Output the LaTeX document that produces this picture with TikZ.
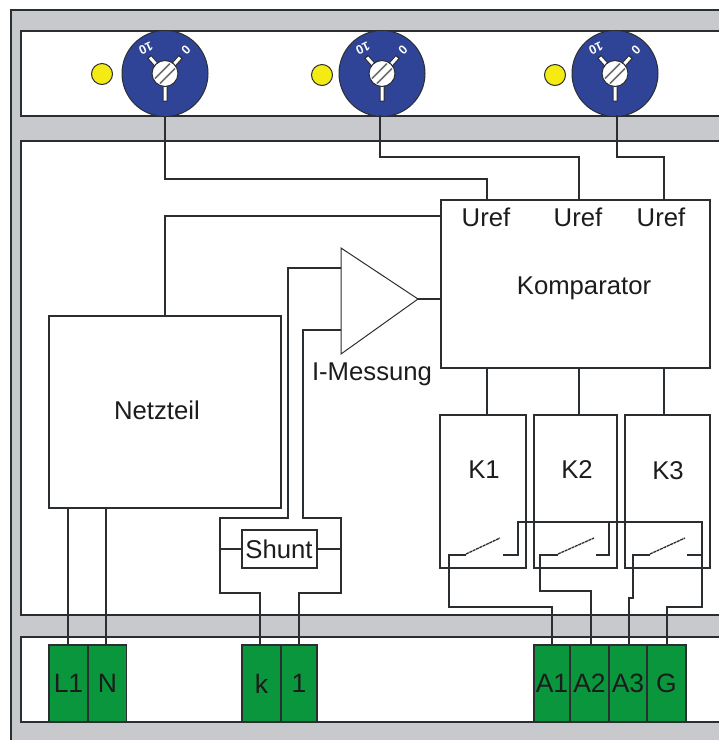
\documentclass[tikz,border=0pt]{standalone}
\usepackage{fontspec}
\setmainfont{Liberation Sans}
\definecolor{panelgray}{HTML}{C8C9CC}
\definecolor{ink}{HTML}{2B2E30}
\definecolor{txt}{HTML}{1C1C1C}
\definecolor{knobblue}{HTML}{2F4496}
\definecolor{termgreen}{HTML}{0A963C}
\definecolor{ledyellow}{HTML}{F4EA14}
\tikzset{
  wire/.style={draw=ink,line width=1.5pt,line join=miter},
  panel/.style={draw=ink,line width=1.5pt,fill=white},
  boxn/.style={draw=ink,line width=1.5pt,fill=white,inner sep=0pt},
  term/.style={draw=ink,line width=1.5pt,fill=termgreen,inner sep=0pt,minimum height=77pt,text=txt,font=\fontsize{26.5}{26.5}\selectfont},
  lbl/.style={text=txt,inner sep=0pt,font=\fontsize{25.7}{25.7}\selectfont},
  led/.style={circle,draw=ink,line width=1pt,fill=ledyellow,minimum size=21pt,inner sep=0pt},
  knob/.style={circle,draw=ink,line width=1pt,fill=knobblue,minimum size=86pt,inner sep=0pt},
  blade/.style={draw=ink,line width=1.3pt,dash pattern=on 3pt off .7pt},
  tick/.style={white,line width=3pt},
  dial/.style={text=white,inner sep=0pt,font=\bfseries\fontsize{12.5}{12.5}\selectfont},
}
\newcommand{\dialknob}[3]{% name, x, y
  \node[knob] (#1) at (#2,#3) {};
  \begin{scope}[shift={(#2,#3)}]
    \draw[ink,line width=5pt] (0,10)--(0,28) (-7,-7)--(-16,-17) (7,-7)--(16,-17);
    \draw[tick] (0,10)--(0,27) (-7,-7)--(-15,-16) (7,-7)--(15,-16);
    \fill[white,draw=ink,line width=1pt] (0,0) circle (13);
    \draw[ink!70,line width=1.5pt] (-10,5)--(5,-10) (-5,10)--(10,-5);
    \node[dial,rotate=205] at (-19,-25) {10};
    \node[dial,rotate=-135] at (21,-24) {0};
  \end{scope}
}
\begin{document}
\begin{tikzpicture}[x=1pt,y=-1pt]
\useasboundingbox (0,0) rectangle (719,740);
\fill[white] (0,0) rectangle (719,740);
% housing
\path[fill=panelgray] (11,10) rectangle (719,740);
\draw[wire] (719,10) -- (11,10) -- (11,740);
% panels
\path[panel] (719,31) -- (21,31) -- (21,116) -- (719,116);
\path[panel] (719,141) -- (21,141) -- (21,615) -- (719,615);
\path[panel] (719,637) -- (21,637) -- (21,722) -- (719,722);
% knobs and LEDs
\dialknob{knobA}{165}{73.5}
\dialknob{knobB}{382}{73.5}
\dialknob{knobC}{615}{73.5}
\node[led] (ledA) at (102,74) {};
\node[led] (ledB) at (322,75) {};
\node[led] (ledC) at (555,75) {};
% main boxes
\node[boxn,minimum width=269pt,minimum height=168pt] (komp) at (575.5,284) {};
\node[boxn,minimum width=232pt,minimum height=192pt] (netz) at (165,412) {};
\node[boxn,minimum width=86pt,minimum height=153pt] (kone) at (483,491.5) {};
\node[boxn,minimum width=83pt,minimum height=153pt] (ktwo) at (575.5,491.5) {};
\node[boxn,minimum width=85pt,minimum height=153pt] (kthree) at (667.5,491.5) {};
\node[boxn,minimum width=75pt,minimum height=38pt] (shunt) at (279.5,549) {};
\draw[draw=ink,line width=1pt,fill=white,line join=miter] (341,248) -- (341,354) -- (418,299) -- cycle;
\coordinate (ampout) at (418,299);
% terminals
\node[term,minimum width=39pt] (tL) at (68.5,683.5) {L1};
\node[term,minimum width=38pt] (tN) at (107.5,683.5) {N};
\node[term,minimum width=39pt] (tk) at (261.5,683.5) {k};
\node[term,minimum width=36pt] (tone) at (299,683.5) {1};
\node[term,minimum width=36pt] (tAa) at (552,683.5) {A1};
\node[term,minimum width=39pt] (tAb) at (589.5,683.5) {A2};
\node[term,minimum width=38pt] (tAc) at (628,683.5) {A3};
\node[term,minimum width=39pt] (tG) at (666.5,683.5) {G};
% free coordinates
\coordinate (uA) at (487,200); \coordinate (uB) at (579,200); \coordinate (uC) at (664,200);
% wires from knobs
\draw[wire] (knobA.south) -- (165,179) -- (487,179) -- (uA);
\draw[wire] (380,115) -- (380,157) -- (579,157) -- (uB);
\draw[wire] (617,115) -- (617,157) -- (664,157) -- (uC);
% power and measuring
\draw[wire] (netz.north) -- (165,216) -- (441,216);
\draw[wire] (ampout) -- (441,299);
\draw[wire] (341,268) -- (288,268) -- (288,518) -- (220,518) -- (220,593) -- (260,593) -- (260,645);
\draw[wire] (341,330) -- (303,330) -- (303,518) -- (341,518) -- (341,593) -- (299,593) -- (299,645);
\draw[wire] (220,549) -- (shunt.west);
\draw[wire] (shunt.east) -- (341,549);
\draw[wire] (68,508) -- (68,645);
\draw[wire] (106,508) -- (106,645);
% comparator to relays
\draw[wire] (487,368) -- (487,415);
\draw[wire] (579,368) -- (579,415);
\draw[wire] (664,368) -- (664,415);
% relay contacts
\draw[wire] (552,645) -- (552,607) -- (449,607) -- (449,555) -- (466,555);
\draw[wire] (591,645) -- (591,591) -- (540,591) -- (540,555) -- (558,555);
\draw[wire] (629,645) -- (629,598) -- (633,598) -- (633,555) -- (650,555);
\draw[blade] (466,554) -- (500,538);
\draw[blade] (558,554) -- (594,538);
\draw[blade] (650,554) -- (685,538);
\draw[wire] (503,555) -- (518,555) -- (518,522) -- (702,522) -- (702,607) -- (667,607) -- (667,645);
\draw[wire] (596,555) -- (609,555) -- (609,522);
\draw[wire] (687,555) -- (702,555);
% labels
\node[lbl] at (486,217) {Uref};
\node[lbl] at (578,217) {Uref};
\node[lbl] at (661,217) {Uref};
\node[lbl] at (584,288) {Komparator};
\node[lbl] at (372,374) {I-Messung};
\node[lbl] at (157,410) {Netzteil};
\node[lbl] at (484,470) {K1};
\node[lbl] at (577,470) {K2};
\node[lbl] at (668,471) {K3};
\node[lbl] at (279,549) {Shunt};
\end{tikzpicture}
\end{document}
